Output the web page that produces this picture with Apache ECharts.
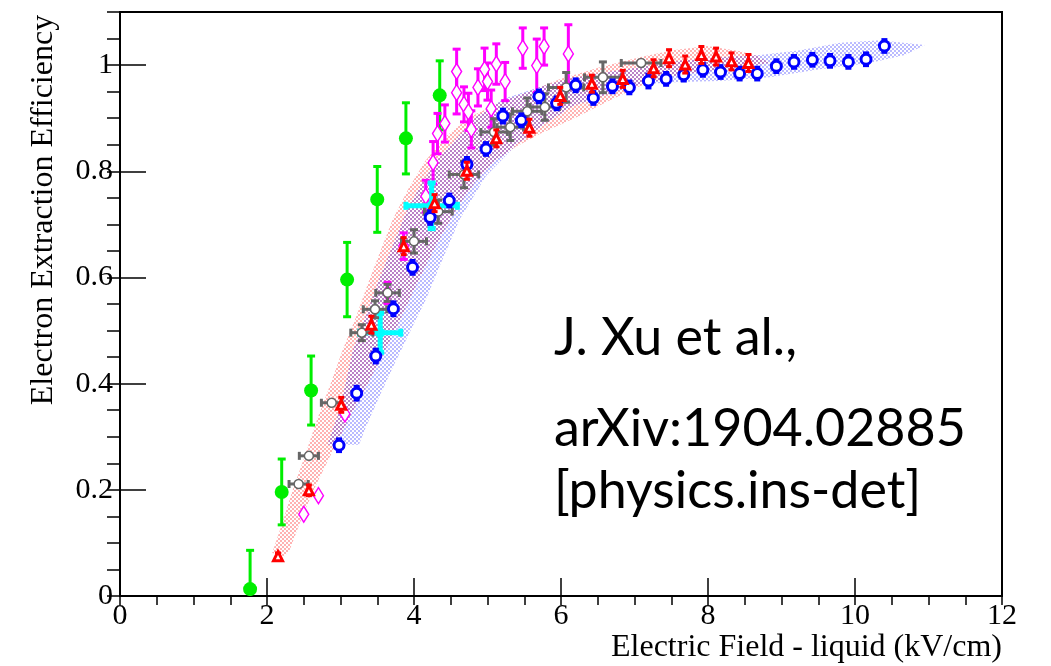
<!DOCTYPE html>
<html><head><meta charset="utf-8">
<script src="https://cdn.jsdelivr.net/npm/echarts@6/dist/echarts.min.js"></script>
<style>html,body{margin:0;padding:0;background:#fff}#c{width:1051px;height:666px}</style>
</head><body><div id="c"></div>
<script>
// ---------- data ----------
const xTickLabels = ['0','2','4','6','8','10','12'];
const yTickLabels = ['0','0.2','0.4','0.6','0.8','1'];

// green filled circles
const greenX = [1.77, 2.20, 2.60, 3.09, 3.50, 3.89, 4.35];
const greenY = [0.013, 0.196, 0.387, 0.596, 0.747, 0.862, 0.943];
const greenYErr = [0.073, 0.062, 0.065, 0.070, 0.062, 0.067, 0.065];

// magenta open diamonds
const magX = [2.50, 2.70, 3.06, 3.64, 3.86, 4.16, 4.26, 4.32, 4.42, 4.58, 4.58, 4.68, 4.74, 4.78, 4.87, 4.96, 5.00, 5.05, 5.12, 5.24, 5.48, 5.67, 5.77, 6.10];
const magY = [0.154, 0.189, 0.343, 0.571, 0.659, 0.753, 0.816, 0.871, 0.890, 0.988, 0.948, 0.926, 0.912, 0.879, 0.958, 0.992, 0.969, 0.918, 1.002, 0.969, 1.032, 0.999, 1.035, 1.021];
const magYErr = [0.0, 0.0, 0.0, 0.02, 0.025, 0.03, 0.04, 0.038, 0.035, 0.042, 0.040, 0.033, 0.035, 0.035, 0.035, 0.040, 0.035, 0.035, 0.038, 0.036, 0.038, 0.050, 0.035, 0.055];

// blue open circles
const blueX = [2.98, 3.22, 3.48, 3.72, 3.98, 4.22, 4.48, 4.72, 4.98, 5.21, 5.46, 5.70, 5.94, 6.20, 6.44, 6.70, 6.93, 7.19, 7.43, 7.67, 7.93, 8.17, 8.43, 8.67, 8.93, 9.17, 9.42, 9.66, 9.91, 10.15, 10.40];
const blueY = [0.284, 0.382, 0.452, 0.541, 0.619, 0.713, 0.745, 0.813, 0.842, 0.904, 0.896, 0.941, 0.928, 0.962, 0.938, 0.960, 0.958, 0.970, 0.974, 0.982, 0.991, 0.987, 0.984, 0.984, 0.998, 1.006, 1.010, 1.008, 1.006, 1.011, 1.036];
const blueYErr = [0.012, 0.013, 0.013, 0.013, 0.013, 0.013, 0.012, 0.013, 0.012, 0.013, 0.012, 0.012, 0.012, 0.012, 0.012, 0.012, 0.012, 0.013, 0.012, 0.012, 0.012, 0.012, 0.012, 0.012, 0.012, 0.012, 0.012, 0.012, 0.012, 0.012, 0.012];

// red open triangles
const redX = [2.15, 2.57, 3.01, 3.42, 3.86, 4.28, 4.72, 5.12, 5.57, 5.99, 6.42, 6.84, 7.26, 7.47, 7.69, 7.91, 8.11, 8.32, 8.55];
const redY = [0.075, 0.199, 0.360, 0.511, 0.659, 0.740, 0.801, 0.862, 0.882, 0.942, 0.965, 0.974, 0.994, 1.013, 1.001, 1.019, 1.016, 1.007, 1.004];
const redYErr = [0.006, 0.010, 0.014, 0.016, 0.016, 0.016, 0.016, 0.016, 0.016, 0.016, 0.016, 0.016, 0.016, 0.016, 0.016, 0.016, 0.016, 0.016, 0.016];

// grey open circles with x and y errors
const greyX = [2.43, 2.57, 2.88, 3.29, 3.47, 3.64, 4.00, 4.33, 4.68, 5.09, 5.31, 5.54, 5.78, 6.07, 6.57, 7.09];
const greyY = [0.211, 0.264, 0.364, 0.496, 0.540, 0.571, 0.668, 0.724, 0.794, 0.874, 0.883, 0.913, 0.921, 0.958, 0.977, 1.004];
const greyXErr = [0.13, 0.13, 0.14, 0.15, 0.16, 0.16, 0.17, 0.19, 0.20, 0.18, 0.18, 0.20, 0.20, 0.24, 0.25, 0.27];
const greyYErr = [0.0, 0.0, 0.0, 0.015, 0.016, 0.016, 0.022, 0.022, 0.025, 0.025, 0.025, 0.025, 0.025, 0.028, 0.029, 0.0];

// cyan crosses
const cyanX = [3.54, 4.24];
const cyanY = [0.496, 0.735];
const cyanXErr = [0.28, 0.35];
const cyanYErr = [0.037, 0.043];

// bands (upper edge then lower edge)
const redBandUpper = [[2.07,0.081],[2.20,0.134],[2.35,0.200],[2.52,0.266],[2.68,0.332],[2.86,0.398],[3.03,0.464],[3.21,0.525],[3.37,0.587],[3.54,0.649],[3.71,0.709],[3.92,0.766],[4.15,0.819],[4.42,0.864],[4.76,0.902],[5.17,0.930],[5.58,0.951],[5.99,0.974],[6.53,0.996],[7.07,1.015],[7.52,1.028],[7.99,1.036],[8.44,1.026],[8.67,1.017],[8.84,1.004]];
const redBandLower = [[8.44,0.996],[7.99,0.989],[7.52,0.979],[7.07,0.960],[6.64,0.932],[6.22,0.902],[5.71,0.870],[5.37,0.845],[5.10,0.819],[4.83,0.779],[4.60,0.734],[4.38,0.681],[4.18,0.628],[3.97,0.568],[3.77,0.508],[3.54,0.445],[3.33,0.389],[3.13,0.338],[2.90,0.275],[2.68,0.213],[2.49,0.153],[2.31,0.087],[2.24,0.075]];
const blueBandUpper = [[2.82,0.285],[2.99,0.351],[3.17,0.464],[3.35,0.530],[3.51,0.591],[3.70,0.657],[3.90,0.725],[4.11,0.779],[4.33,0.823],[4.56,0.860],[4.86,0.904],[5.21,0.936],[5.58,0.953],[6.03,0.972],[6.53,0.985],[7.07,0.996],[7.62,1.008],[8.16,1.015],[8.71,1.019],[9.25,1.028],[9.80,1.042],[10.34,1.047],[10.95,1.038]];
const blueBandLower = [[10.68,1.019],[10.20,1.004],[9.52,0.992],[8.84,0.977],[8.16,0.970],[7.62,0.968],[7.07,0.964],[6.63,0.945],[6.16,0.923],[5.78,0.889],[5.40,0.851],[4.98,0.791],[4.62,0.709],[4.36,0.625],[4.16,0.558],[3.96,0.502],[3.73,0.436],[3.54,0.379],[3.36,0.323],[3.25,0.285]];

// ---------- rendering ----------
function makePattern(color) {
  const c = document.createElement('canvas');
  c.width = 4; c.height = 4;
  const g = c.getContext('2d');
  g.fillStyle = color;
  g.fillRect(0, 0, 2, 2);
  g.fillRect(2, 2, 2, 2);
  return c;
}
const redPat = makePattern('rgba(255,0,0,0.3)');
const bluePat = makePattern('rgba(0,0,255,0.27)');

function bandSeries(upper, lower, pat) {
  const pts = upper.concat(lower);
  return {
    type: 'custom', z: 1, silent: true,
    data: pts, encode: {x: 0, y: 1},
    renderItem: function (params, api) {
      if (params.dataIndex !== 0) return null;
      const poly = pts.map(p => api.coord(p));
      return {type: 'polygon', shape: {points: poly},
        style: {fill: {image: pat, repeat: 'repeat'}, stroke: null}};
    }
  };
}

function errSeries(xs, ys, exs, eys, color, lw, cap, z) {
  const data = xs.map((x, i) => [x, ys[i], exs ? exs[i] : 0, eys ? eys[i] : 0]);
  return {
    type: 'custom', z: z, silent: true, data: data, encode: {x: 0, y: 1},
    renderItem: function (params, api) {
      const x = api.value(0), y = api.value(1), ex = api.value(2), ey = api.value(3);
      const ch = [];
      const st = {stroke: color, lineWidth: lw};
      if (ey > 0) {
        const lo = Math.max(y - ey, 0);
        const p1 = api.coord([x, lo]), p2 = api.coord([x, y + ey]);
        ch.push({type: 'line', shape: {x1: p1[0], y1: p1[1], x2: p2[0], y2: p2[1]}, style: st});
        ch.push({type: 'line', shape: {x1: p2[0] - cap, y1: p2[1], x2: p2[0] + cap, y2: p2[1]}, style: st});
        if (y - ey > 0) ch.push({type: 'line', shape: {x1: p1[0] - cap, y1: p1[1], x2: p1[0] + cap, y2: p1[1]}, style: st});
      }
      if (ex > 0) {
        const p1 = api.coord([x - ex, y]), p2 = api.coord([x + ex, y]);
        ch.push({type: 'line', shape: {x1: p1[0], y1: p1[1], x2: p2[0], y2: p2[1]}, style: st});
        ch.push({type: 'line', shape: {x1: p1[0], y1: p1[1] - cap, x2: p1[0], y2: p1[1] + cap}, style: st});
        ch.push({type: 'line', shape: {x1: p2[0], y1: p2[1] - cap, x2: p2[0], y2: p2[1] + cap}, style: st});
      }
      return {type: 'group', children: ch};
    }
  };
}

function markSeries(xs, ys, symbol, size, fill, border, bw, z) {
  return {
    type: 'scatter', z: z, silent: true,
    data: xs.map((x, i) => [x, ys[i]]),
    symbol: symbol, symbolSize: size,
    itemStyle: {color: fill, borderColor: border, borderWidth: bw, opacity: 1}
  };
}

const serif = '"Liberation Serif", "Times New Roman", serif';
const sans = 'Lato, "Open Sans", sans-serif';
const baseAxis = {
  type: 'value', splitLine: {show: false},
  axisLine: {show: true, onZero: false, lineStyle: {color: '#000', width: 2}},
  axisTick: {show: true, inside: true, lineStyle: {color: '#000', width: 1.5}},
  axisLabel: {show: true, color: '#000', fontFamily: serif, fontSize: 30}
};

const option = {
  animation: false,
  backgroundColor: '#fff',
  grid: {left: 120, right: 49, top: 12, bottom: 70, show: true, borderColor: '#000', borderWidth: 2, backgroundColor: 'transparent'},
  xAxis: [
    Object.assign({}, baseAxis, {
      min: 0, max: 12, interval: 2,
      axisTick: Object.assign({}, baseAxis.axisTick, {length: 18}),
      axisLabel: Object.assign({}, baseAxis.axisLabel, {margin: 5,
        formatter: v => xTickLabels[Math.round(v / 2)]}),
      name: 'Electric Field - liquid (kV/cm)', nameLocation: 'end', nameGap: 0,
      nameTextStyle: {fontFamily: serif, fontSize: 32, color: '#000', align: 'right', verticalAlign: 'top', padding: [36, 0, 0, 0]}
    }),
    Object.assign({}, baseAxis, {
      min: 0, max: 12, interval: 0.5,
      axisLine: {show: false},
      axisTick: Object.assign({}, baseAxis.axisTick, {length: 9}),
      axisLabel: {show: false}
    })
  ],
  yAxis: [
    Object.assign({}, baseAxis, {
      min: 0, max: 1.1, interval: 0.2,
      axisTick: Object.assign({}, baseAxis.axisTick, {length: 26}),
      axisLabel: Object.assign({}, baseAxis.axisLabel, {margin: 7,
        formatter: function (v) {
          const k = v / 0.2;
          if (Math.abs(k - Math.round(k)) > 1e-6) return '';
          return yTickLabels[Math.round(k)] || '';
        }}),
      name: 'Electron Extraction Efficiency', nameLocation: 'middle', nameRotate: 90, nameGap: 60,
      nameTextStyle: {fontFamily: serif, fontSize: 32, color: '#000', padding: [0, 0, 0, 188]}
    }),
    Object.assign({}, baseAxis, {
      min: 0, max: 1.1, interval: 0.05,
      axisLine: {show: false},
      axisTick: Object.assign({}, baseAxis.axisTick, {length: 13}),
      axisLabel: {show: false}
    })
  ],
  graphic: [
    {type: 'text', left: 554, top: 312, style: {text: 'J. Xu et al.,', fontFamily: sans, fontSize: 52, fill: '#000'}},
    {type: 'text', left: 554, top: 403, style: {text: 'arXiv:1904.02885', fontFamily: sans, fontSize: 52, fill: '#000'}},
    {type: 'text', left: 554, top: 465, style: {text: '[physics.ins-det]', fontFamily: sans, fontSize: 52, fill: '#000'}}
  ],
  series: [
    bandSeries(redBandUpper, redBandLower, redPat),
    bandSeries(blueBandUpper, blueBandLower, bluePat),
    errSeries(greenX, greenY, null, greenYErr, '#00ee00', 3, 4, 3),
    markSeries(greenX, greenY, 'circle', 14, '#00ee00', '#00ee00', 0, 4),
    errSeries(magX, magY, null, magYErr, '#ff00ff', 3, 4, 5),
    markSeries(magX, magY, 'diamond', [10, 16], '#fff', '#ff00ff', 1.5, 6),
    errSeries(cyanX, cyanY, cyanXErr, cyanYErr, '#00ffff', 5, 4, 7),
    markSeries(cyanX, cyanY, 'circle', 10, '#00ffff', '#00ffff', 0, 8),
    errSeries(greyX, greyY, greyXErr, greyYErr, '#666666', 3, 4, 9),
    markSeries(greyX, greyY, 'circle', 9, '#fff', '#666666', 1.5, 10),
    errSeries(blueX, blueY, null, blueYErr, '#0000ff', 3, 3, 11),
    markSeries(blueX, blueY, 'circle', 10, '#fff', '#0000ff', 3, 12),
    errSeries(redX, redY, null, redYErr, '#ff0000', 3, 3, 13),
    markSeries(redX, redY, 'triangle', 9, '#fff', '#ff0000', 3, 14)
  ]
};
const chart = echarts.init(document.getElementById('c'));
chart.setOption(option);
</script>
</body></html>
